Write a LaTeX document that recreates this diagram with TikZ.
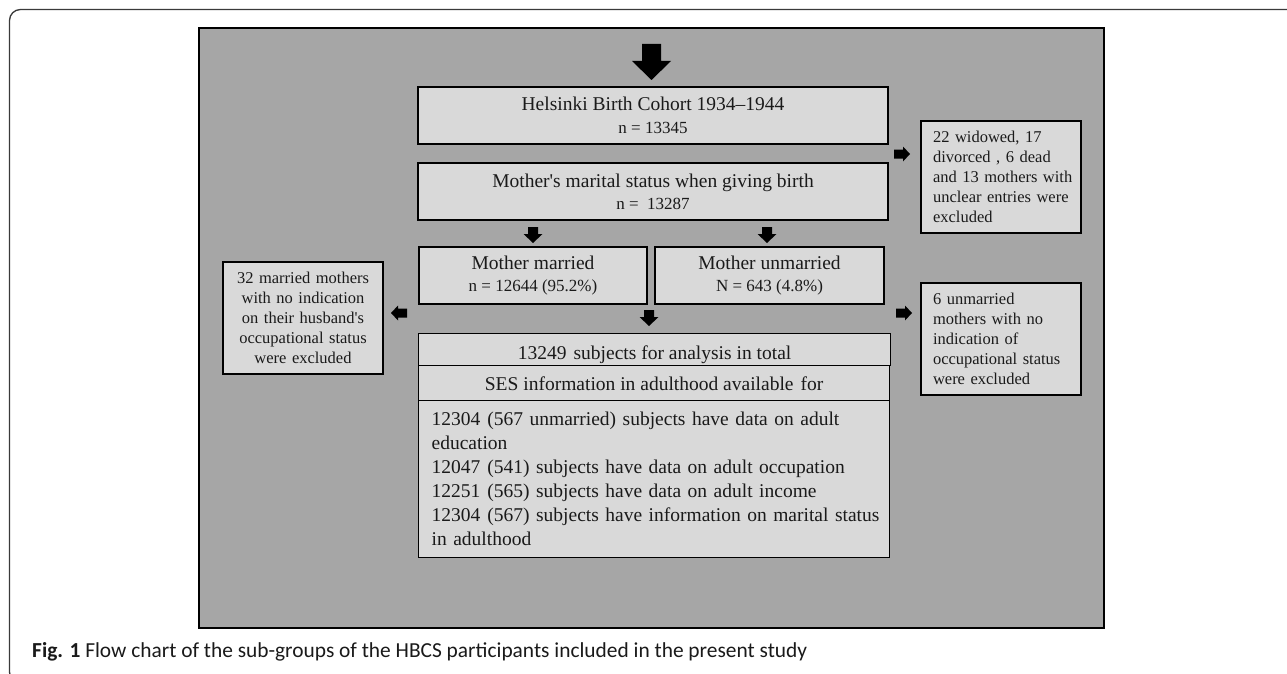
\documentclass[tikz,border=0pt]{standalone}
\usepackage{fontspec}
\setmainfont{Liberation Serif}[Ligatures=TeXOff]
\newfontfamily\capfont{Carlito}
\usepackage{graphicx}
\definecolor{panelgray}{HTML}{A6A6A6}
\definecolor{boxgray}{HTML}{D9D9D9}
\definecolor{framegray}{HTML}{3A3A3A}
\definecolor{inkc}{HTML}{1A1A1A}
\newcommand{\gapsp}{\hspace{7pt}}
\tikzset{
  box/.style={draw=black, line width=1.2pt, fill=boxgray, inner sep=0pt, text=inkc},
  titlefont/.style={font=\fontsize{19.5}{22}\selectfont},
  notefont/.style={font=\fontsize{16.5}{20}\selectfont},
  darr/.pic={\fill[black] (-5,0) -- (5,0) -- (5,7) -- (9.5,7) -- (0,16) -- (-9.5,7) -- (-5,7) -- cycle;},
  bigdarr/.pic={\fill[black] (-9.5,0) -- (9.5,0) -- (9.5,17) -- (19.5,17) -- (0,36) -- (-19.5,17) -- (-9.5,17) -- cycle;},
  rarr/.pic={\fill[black] (0,-4.5) -- (9,-4.5) -- (9,-7.5) -- (16,0) -- (9,7.5) -- (9,4.5) -- (0,4.5) -- cycle;},
}
\begin{document}
\begin{tikzpicture}[x=1pt,y=-1pt]
\useasboundingbox (0,0) rectangle (1287,674);
\fill[white] (0,0) rectangle (1287,674);
\begin{scope}
  \clip (0,0) rectangle (1287,674);
  \draw[framegray, line width=1.3pt, rounded corners=11pt] (1300,9.5) -- (9.5,9.5) -- (9.5,683) -- (40,683);
\end{scope}

% grey panel
\node[draw=black, line width=2pt, fill=panelgray, minimum width=905pt, minimum height=600pt, inner sep=0pt] (panel) at (651.5,328) {};

% main column
\node[box, align=center, minimum width=470pt, minimum height=57pt, font=\fontsize{19.5}{23}\selectfont] (hbc) at (653,115.5)
  {Helsinki Birth Cohort 1934–1944\\{\fontsize{17}{23}\selectfont n = 13345}};
\node[box, align=center, minimum width=470pt, minimum height=57pt, titlefont] (mms) at (653,191.5)
  {Mother's marital\ status when giving\ birth\\{\fontsize{17}{22}\selectfont n =\ \ 13287}};
\node[box, align=center, minimum width=228pt, minimum height=57pt, titlefont] (mar) at (533,275.5)
  {Mother married\\{\fontsize{17}{22}\selectfont n = 12644 (95.2\%)}};
\node[box, align=center, minimum width=229pt, minimum height=57pt, titlefont] (unm) at (769.5,275.5)
  {Mother unmarried\\{\fontsize{17}{22}\selectfont N = 643 (4.8\%)}};

\node[box, anchor=north west, minimum width=472pt, minimum height=32pt, titlefont, text height=20pt, text depth=0pt] (tot) at (418,333)
  {13249\gapsp subjects for analysis in total};
\node[box, anchor=north west, minimum width=471pt, minimum height=35pt, titlefont, text height=15pt, text depth=0pt] (ses) at (418,365)
  {SES information in adulthood available\gapsp for};
\node[box, anchor=north west, minimum width=471pt, minimum height=157pt, inner xsep=13pt, text width=445pt, align=left, font=\fontsize{19.5}{24}\selectfont] (data) at (418,400)
  {\mbox{12304\gapsp(567 unmarried) subjects have data on adult}\\
   \mbox{education}\\
   \mbox{12047\gapsp(541) subjects have data on adult occupation}\\
   \mbox{12251\gapsp(565) subjects have data on adult income}\\
   \mbox{12304\gapsp(567) subjects have information on marital status}\\
   \mbox{in adulthood}};

% exclusion boxes
\node[box, align=center, text width=148pt, inner xsep=6pt, minimum height=112pt, notefont] (exl) at (303,318)
  {\mbox{32 married mothers}\\\mbox{with no indication}\\\mbox{on their husband's}\\\mbox{occupational status}\\\mbox{were excluded}};
\node[box, align=left, text width=136pt, inner xsep=12pt, minimum height=112pt, notefont] (exr1) at (1001,177)
  {\mbox{22 widowed, 17}\\\mbox{divorced , 6 dead}\\\mbox{and 13 mothers with}\\\mbox{unclear entries were}\\\mbox{excluded}};
\node[box, align=left, text width=136pt, inner xsep=12pt, minimum height=112pt, notefont] (exr2) at (1001,339)
  {\mbox{6 unmarried}\\\mbox{mothers with no}\\\mbox{indication of}\\\mbox{occupational status}\\\mbox{were excluded}};

% block arrows
\pic at (651.5,44) {bigdarr};
\pic at (533,227) {darr};
\pic at (767,227) {darr};
\pic at (649,310) {darr};
\pic at (894,154) {rarr};
\pic at (896,313) {rarr};
\pic[rotate=180] at (407,313) {rarr};

% caption
\node[anchor=base west, inner sep=0pt, text=inkc] (cap) at (32,657)
  {\resizebox{775pt}{!}{\capfont\fontsize{16}{18}\selectfont\textbf{Fig. 1} Flow chart of the sub-groups of the HBCS participants included in the present study}};
\end{tikzpicture}
\end{document}
